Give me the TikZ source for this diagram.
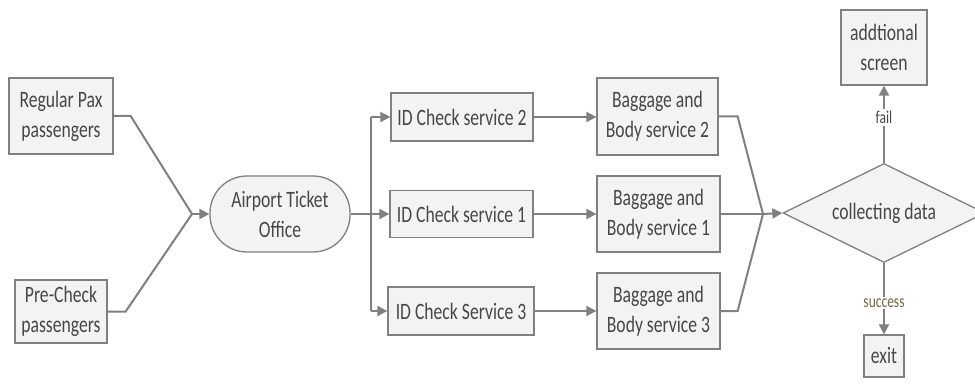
\documentclass[tikz,border=0pt]{standalone}
\usepackage{fontspec}
\setmainfont[FakeStretch=0.75]{Carlito}
\usetikzlibrary{shapes.geometric,arrows.meta,calc}
\definecolor{linegray}{HTML}{808080}
\definecolor{boxfill}{HTML}{F3F3F3}
\definecolor{txtgray}{HTML}{474747}
\definecolor{olivetxt}{HTML}{6E6A3C}
\tikzset{
  box/.style={draw=linegray, line width=1.3pt, fill=boxfill, text=txtgray,
    align=center, inner sep=0pt, font=\fontsize{23.5}{30}\selectfont},
  link/.style={draw=linegray, line width=2pt},
  arr/.style={link, -{Triangle[length=10pt,width=10pt]}},
  lbl/.style={fill=white, inner sep=2pt, font=\fontsize{18}{20}\selectfont, text=txtgray},
}
\begin{document}
\begin{tikzpicture}[x=1pt, y=-1pt]
\useasboundingbox (0,0) rectangle (975,385);
\clip (0,0) rectangle (975,385);

% sources
\node[box, minimum width=104pt, minimum height=76pt] (reg) at (61,116) {Regular Pax\\passengers};
\node[box, minimum width=92pt, minimum height=63pt] (pre) at (61,311.5) {Pre-Check\\passengers};

% ticket office
\node[box, rounded corners=37pt, minimum width=140pt, minimum height=76pt] (atk) at (280,214) {Airport Ticket\\Office};

% ID check services
\node[box, minimum width=142pt, minimum height=48pt] (id2) at (462,117) {ID Check service 2};
\node[box, minimum width=143pt, minimum height=47pt] (id1) at (461.5,214) {ID Check service 1};
\node[box, minimum width=146pt, minimum height=48pt] (id3) at (461,311) {ID Check Service 3};

% baggage and body services
\node[box, minimum width=121pt, minimum height=77pt] (bb2) at (657.5,116.5) {Baggage and\\Body service 2};
\node[box, minimum width=123pt, minimum height=76pt] (bb1) at (658.5,214) {Baggage and\\Body service 1};
\node[box, minimum width=123pt, minimum height=76pt] (bb3) at (658.5,311) {Baggage and\\Body service 3};

% decision and outcomes
\node[box, diamond, aspect=2, minimum width=202pt, minimum height=99pt] (dec) at (884,213) {collecting data};
\node[box, minimum width=86pt, minimum height=75pt] (add) at (884,47.5) {addtional\\screen};
\node[box, minimum width=40pt, minimum height=42pt] (ex) at (884,356) {exit};

% joins and branches
\coordinate (m1) at (192,214);
\coordinate (br) at (371,214);
\coordinate (m2) at (763,214);

\draw[link] (reg.east) -- ++(17,0) -- (m1);
\draw[link] (pre.east) -- ++(18,0) -- (m1);
\draw[arr] (m1) -- (atk.west);

\draw[link] (atk.east) -- (br);
\draw[link] (br |- id2.west) -- (br |- id3.west);
\draw[arr] (br |- id2.west) -- (id2.west);
\draw[arr] (br) -- (id1.west);
\draw[arr] (br |- id3.west) -- (id3.west);

\draw[arr] (id2.east) -- (id2.east -| bb2.west);
\draw[arr] (id1.east) -- (id1.east -| bb1.west);
\draw[arr] (id3.east) -- (id3.east -| bb3.west);

\draw[link] (bb2.east) -- ++(19,0) -- (m2);
\draw[link] (bb1.east) -- (m2);
\draw[link] (bb3.east) -- ++(17,0) -- (m2);
\draw[arr] (m2) -- (dec.west);

\draw[arr] (dec.north) -- node[lbl, pos=0.59] {fail} (add.south);
\draw[arr] (dec.south) -- node[lbl, pos=0.56, text=olivetxt] {success} (ex.north);
\end{tikzpicture}
\end{document}
